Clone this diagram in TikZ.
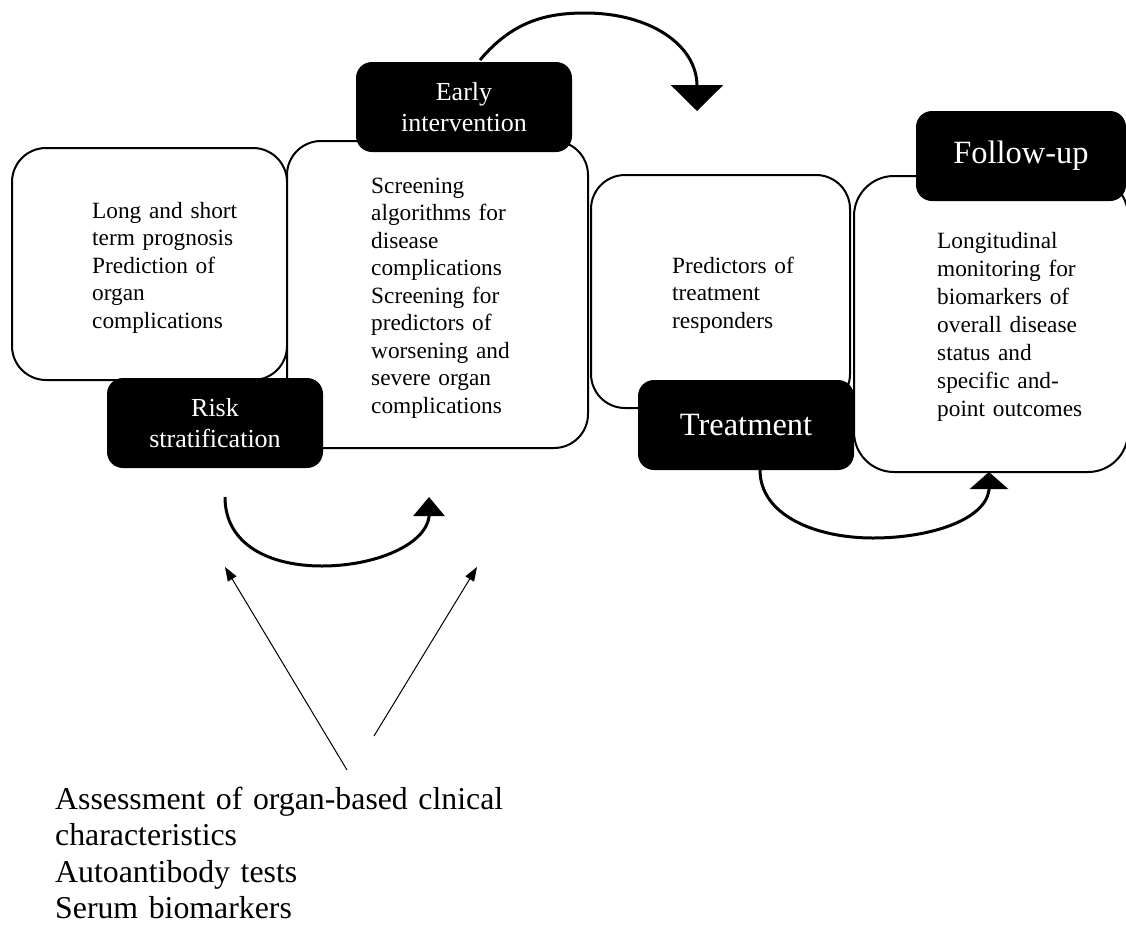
\documentclass[tikz,border=0pt]{standalone}
\usepackage{fontspec}
\setmainfont{Liberation Serif}
\usetikzlibrary{arrows.meta}
\begin{document}
\begin{tikzpicture}[x=1pt,y=-1pt,
  whitebox/.style={draw=black, line width=2pt, fill=white, rounded corners=34pt, inner sep=0pt},
  blackbox/.style={fill=black, text=white, rounded corners=16pt, inner sep=0pt, minimum width=216pt, minimum height=90pt, align=center, font=\fontsize{26}{31}\selectfont},
  bigblack/.style={blackbox, font=\fontsize{32.5}{37}\selectfont},
  boxtext/.style={anchor=base west, inner sep=0pt, align=left, text width=250pt, font=\fontsize{23.3}{27.5}\selectfont},
  flow/.style={line width=3pt},
  pointer/.style={line width=1pt, -{Triangle[length=14pt,width=10pt]}}
]
\useasboundingbox (0,0) rectangle (1126,924);

% white boxes
\node[whitebox, minimum width=275pt, minimum height=232pt] (box1) at (149.5,264) {};
\node[whitebox, minimum width=301pt, minimum height=307pt] (box2) at (437.5,294.5) {};
\node[blackbox] (risk) at (215,423) {Risk\\stratification};
\node[whitebox, minimum width=259pt, minimum height=233pt] (box3) at (720.5,291.5) {};
\node[whitebox, minimum width=274pt, minimum height=296pt, rounded corners=40pt] (box4) at (991,324) {};
\node[bigblack] (treat) at (746,425) {Treatment};
\node[blackbox] (early) at (464,107) {Early\\intervention};
\node[bigblack, minimum width=210pt] (follow) at (1021,156) {Follow-up};

% box texts
\node[boxtext] (t1) at (92,218) {Long and short\\term prognosis\\Prediction of\\organ\\complications};
\node[boxtext] (t2) at (371,193) {Screening\\algorithms for\\disease\\complications\\Screening for\\predictors of\\worsening and\\severe organ\\complications};
\node[boxtext] (t3) at (672,273) {Predictors of\\treatment\\responders};
\node[boxtext, font=\fontsize{23.3}{28}\selectfont] (t4) at (937,248) {Longitudinal\\monitoring for\\biomarkers of\\overall disease\\status and\\specific and-\\point outcomes};

\node[anchor=base west, inner sep=0pt, align=left, text width=600pt, font=\fontsize{31.8}{36.6}\selectfont] (assess) at (55,809) {Assessment of organ-based clnical\\characteristics\\Autoantibody tests\\Serum biomarkers};

% curved flow arrows
\coordinate (a1) at (480,60);
\coordinate (a2) at (697,111);
\draw[flow, -{Triangle[length=26pt,width=52pt]}] (a1) .. controls (512,22) and (545,13) .. (585,13) .. controls (650,13) and (697,45) .. (697,86) -- (a2);

\coordinate (b1) at (225,497);
\coordinate (b2) at (429,497);
\draw[flow, -{Triangle[length=19pt,width=31pt]}] (b1) .. controls (225,545) and (270,566) .. (322,566) .. controls (375,566) and (425,545) .. (429,517) -- (b2);

\coordinate (c1) at (760,470);
\coordinate (c2) at (989,472);
\draw[flow, -{Triangle[length=17pt,width=38pt]}] (c1) .. controls (760,515) and (815,538) .. (873,538) .. controls (930,538) and (985,520) .. (989,490) -- (c2);

% thin pointers
\coordinate (s1) at (347,770);
\coordinate (s2) at (374,736);
\coordinate (e1) at (225,567);
\coordinate (e2) at (477,567);
\draw[pointer] (s1) -- (e1);
\draw[pointer] (s2) -- (e2);
\end{tikzpicture}
\end{document}
